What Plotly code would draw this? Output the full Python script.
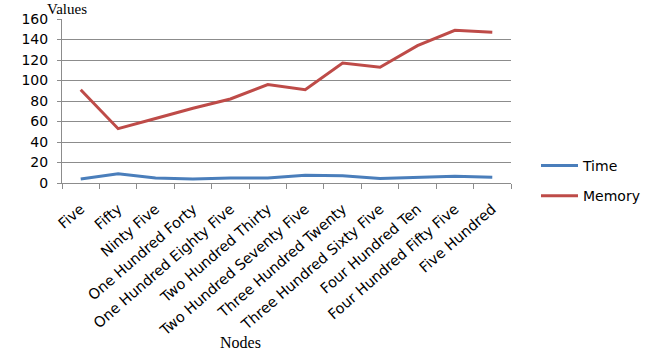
import plotly.graph_objects as go

nodes = ["Five", "Fifty", "Ninty Five", "One Hundred Forty", "One Hundred Eighty Five",
         "Two Hundred Thirty", "Two Hundred Seventy Five", "Three Hundred Twenty",
         "Three Hundred Sixty Five", "Four Hundred Ten", "Four Hundred Fifty Five",
         "Five Hundred"]
time_vals = [4, 9, 5, 4, 5, 5, 7.5, 7, 4.5, 5.5, 6.5, 5.5]
memory_vals = [91, 53, 63, 73, 82, 96, 91, 117, 113, 134, 149, 147]

W, H = 661, 352
L, R, T, B = 62, 150, 19, 169
grid = "#8c8c8c"

fig = go.Figure()
fig.add_trace(go.Scatter(x=nodes, y=time_vals, mode="lines", name="Time",
                         legendgroup="t", line=dict(color="#4A7EBB", width=3)))
fig.add_trace(go.Scatter(x=nodes, y=memory_vals, mode="lines", name="Memory",
                         legendgroup="m", line=dict(color="#BE4B48", width=3)))

fig.update_layout(
    width=W, height=H,
    margin=dict(l=L, r=R, t=T, b=B, pad=0),
    paper_bgcolor="white", plot_bgcolor="white",
    font=dict(family="DejaVu Sans", color="#000000"),
    legend=dict(x=536 / W, xref="container", xanchor="left",
                y=1 - 150 / H, yref="container", yanchor="top",
                font=dict(size=14, family="DejaVu Sans"),
                itemwidth=37, tracegroupgap=9, bgcolor="rgba(0,0,0,0)"),
    showlegend=True,
)
fig.update_xaxes(type="category", range=[-0.5, len(nodes) - 0.5],
                 tickson="boundaries", ticks="outside", ticklen=5,
                 tickcolor=grid, showline=True, linecolor=grid, linewidth=1,
                 showgrid=False, tickangle=-41, ticklabelstandoff=11,
                 tickfont=dict(size=14.5, family="DejaVu Sans"))
fig.update_yaxes(range=[0, 160], dtick=20, ticks="outside", ticklen=4, tickcolor=grid,
                 showline=True, linecolor=grid, linewidth=1, showgrid=True,
                 gridcolor=grid, gridwidth=1, zeroline=False,
                 ticklabelstandoff=6, tickfont=dict(size=14, family="DejaVu Sans"))

fig.add_annotation(text="Values", xref="paper", yref="paper", x=(67 - L) / (W - L - R),
                   y=1 + (T - 9) / (H - T - B), showarrow=False,
                   font=dict(family="Liberation Serif", size=15, color="#000"),
                   xanchor="center", yanchor="middle")
fig.add_annotation(text="Nodes", xref="paper", yref="paper", x=(240 - L) / (W - L - R),
                   y=-(342 - (H - B)) / (H - T - B), showarrow=False,
                   font=dict(family="Liberation Serif", size=16, color="#000"),
                   xanchor="center", yanchor="middle")

fig.write_html("out.html")
